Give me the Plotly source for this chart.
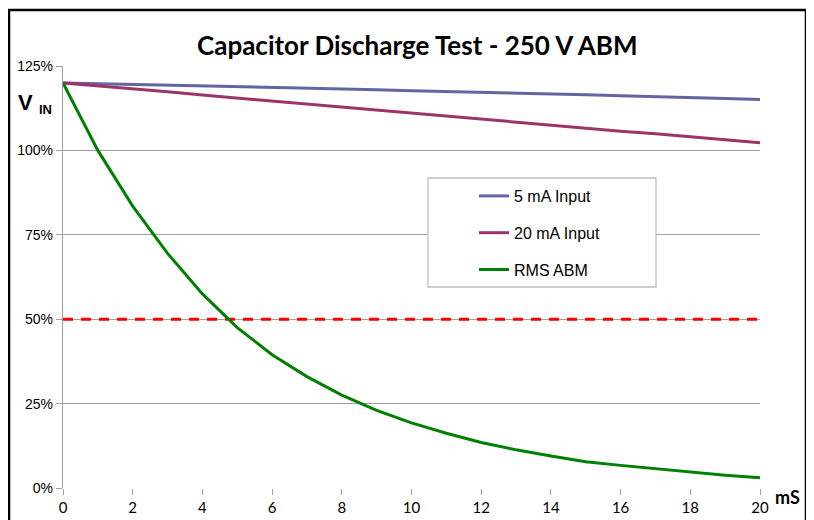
import plotly.graph_objects as go

# ---- data ----
time_ms = [0, 1, 2, 3, 4, 5, 6, 7, 8, 9, 10, 11, 12, 13, 14, 15, 16, 17, 18, 19, 20]
input_5ma = [120.0, 119.8, 119.6, 119.4, 119.2, 119.0, 118.8, 118.5, 118.3, 118.0, 117.7,
             117.5, 117.3, 117.0, 116.7, 116.5, 116.2, 116.0, 115.7, 115.4, 115.1]
input_20ma = [120.0, 119.2, 118.3, 117.4, 116.4, 115.5, 114.6, 113.7, 112.7, 111.8, 110.9,
              110.0, 109.1, 108.3, 107.5, 106.6, 105.7, 104.9, 104.0, 103.2, 102.3]
rms_abm = [120.0, 100.0, 83.5, 69.5, 57.5, 47.5, 39.5, 33.0, 27.5, 23.0, 19.3,
           16.2, 13.5, 11.3, 9.5, 7.8, 6.7, 5.7, 4.7, 3.8, 3.0]
threshold_pct = 50
series_names = ["5 mA Input", "20 mA Input", "RMS ABM"]
x_ticks = [0, 2, 4, 6, 8, 10, 12, 14, 16, 18, 20]
y_ticks = [0, 25, 50, 75, 100, 125]
y_tick_text = ["0%", "25%", "50%", "75%", "100%", "125%"]

colors = ["#6465A0", "#9C3468", "#008000"]

fig = go.Figure()

fig.add_trace(go.Scatter(
    x=[time_ms[0], time_ms[-1]], y=[threshold_pct, threshold_pct], mode="lines",
    line=dict(color="#FF0000", width=3, dash="10px,8px"), showlegend=False, hoverinfo="skip"))

for name, ys, c in zip(series_names, [input_5ma, input_20ma, rms_abm], colors):
    fig.add_trace(go.Scatter(x=time_ms, y=ys, mode="lines", name=name, legendgroup=name,
                             line=dict(color=c, width=3)))

# the page body has an 8px margin: work in reference-picture pixels and shift
OFF = 8
W, H = 814 - OFF, 520 - OFF
L, R, T, B = 63 - OFF, 760 - OFF, 66 - OFF, 488 - OFF
pw, ph = R - L, B - T

def px(x):
    return (x - OFF - L) / pw

def py(y):
    return (B - (y - OFF)) / ph

fig.update_layout(
    width=W, height=H,
    margin=dict(l=L, r=W - R, t=T, b=H - B, pad=0),
    paper_bgcolor="white", plot_bgcolor="white",
    showlegend=True,
    legend=dict(x=px(474), y=py(179), xanchor="left", yanchor="top",
                bgcolor="rgba(0,0,0,0)", borderwidth=0,
                font=dict(family="Liberation Sans, Arial", size=16, color="#000"),
                tracegroupgap=13, itemwidth=30),
    xaxis=dict(range=[0, 20], tickvals=x_ticks, showgrid=False, zeroline=False,
               showline=False, ticks="outside", ticklen=6, tickcolor="#A0A0A0", tickwidth=1,
               automargin=False,
               tickfont=dict(family="Lato, Liberation Sans", size=15, color="#000")),
    yaxis=dict(range=[0, 125], tickvals=y_ticks, ticktext=y_tick_text, showgrid=True,
               gridcolor="#A0A0A0", gridwidth=1.3, zeroline=False, showline=True,
               linecolor="#A0A0A0", linewidth=1.3, ticks="outside", ticklen=6,
               tickcolor="#A0A0A0", automargin=False,
               tickfont=dict(family="Liberation Sans, Arial", size=14, color="#000")),
)

# chart border
fig.add_shape(type="rect", xref="paper", yref="paper", x0=px(9), x1=px(806), y0=py(560), y1=py(10),
              line=dict(color="#000", width=2.5), fillcolor="rgba(0,0,0,0)", layer="above")
# legend box
fig.add_shape(type="rect", xref="paper", yref="paper", x0=px(428), x1=px(656), y0=py(287), y1=py(178),
              line=dict(color="#BFBFBF", width=1.3), fillcolor="white", layer="above")

fig.add_annotation(text="<b>Capacitor Discharge Test - 250 V ABM</b>", xref="paper", yref="paper",
                   x=px(417), y=py(45), xanchor="center", yanchor="middle", showarrow=False,
                   font=dict(family="Lato, Liberation Sans", size=26, color="#000"))
fig.add_annotation(text="<b>mS</b>", xref="paper", yref="paper", x=px(787), y=py(497),
                   xanchor="center", yanchor="middle", showarrow=False,
                   font=dict(family="Lato, Liberation Sans", size=18, color="#000"))
fig.add_annotation(text="<b>V</b>", xref="paper", yref="paper", x=px(25), y=py(102),
                   xanchor="center", yanchor="middle", showarrow=False,
                   font=dict(family="Liberation Sans, Arial", size=22, color="#000"))
fig.add_annotation(text="<b>IN</b>", xref="paper", yref="paper", x=px(45), y=py(109),
                   xanchor="center", yanchor="middle", showarrow=False,
                   font=dict(family="Liberation Sans, Arial", size=13, color="#000"))

fig.write_html("out.html")
